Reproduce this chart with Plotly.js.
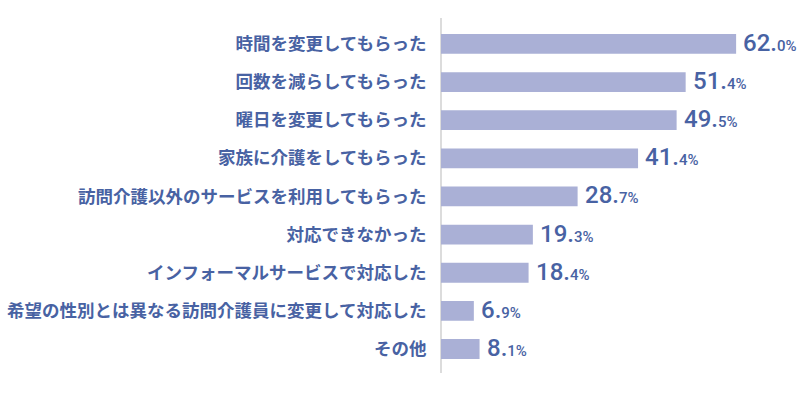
<!DOCTYPE html>
<html>
<head>
<meta charset="utf-8">
<script src="https://cdn.plot.ly/plotly-3.0.1.min.js"></script>
<style>
html,body{margin:0;padding:0;background:#fff;}
#chart{width:804px;height:394px;}
</style>
</head>
<body>
<div id="chart"></div>
<script>
const categories = [
  "時間を変更してもらった",
  "回数を減らしてもらった",
  "曜日を変更してもらった",
  "家族に介護をしてもらった",
  "訪問介護以外のサービスを利用してもらった",
  "対応できなかった",
  "インフォーマルサービスで対応した",
  "希望の性別とは異なる訪問介護員に変更して対応した",
  "その他"
];
const values = [62.0, 51.4, 49.5, 41.4, 28.7, 19.3, 18.4, 6.9, 8.1];

const textColor = "#4862a3";
const barColor = "#aab0d6";

const annotations = values.map((v, i) => {
  const s = v.toFixed(1);
  const dot = s.indexOf(".");
  const big = s.slice(0, dot + 1);
  const small = s.slice(dot + 1) + "%";
  return {
    x: v, y: categories[i], xref: "x", yref: "y",
    xanchor: "left", yanchor: "middle", xshift: 5, yshift: 1,
    showarrow: false,
    text: big + '<span style="font-size:15px">' + small + '</span>',
    font: {family: "Roboto, Arial, sans-serif", size: 24, color: textColor, weight: 500}
  };
});

const trace = {
  type: "bar",
  orientation: "h",
  x: values,
  y: categories,
  marker: {color: barColor},
  width: 0.52,
  hoverinfo: "none"
};

const layout = {
  width: 804, height: 394,
  margin: {l: 441, r: 6, t: 18, b: 21},
  paper_bgcolor: "#fff", plot_bgcolor: "#fff",
  showlegend: false,
  xaxis: {
    range: [0, 75], showgrid: false, showticklabels: false, ticks: "",
    zeroline: true, zerolinecolor: "#dcdcdc", zerolinewidth: 2, fixedrange: true
  },
  yaxis: {
    type: "category",
    categoryorder: "array", categoryarray: categories,
    range: [8.63, -0.68],
    showgrid: false, zeroline: false, showline: false,
    ticks: "outside", ticklen: 10, tickcolor: "rgba(0,0,0,0)",
    tickfont: {family: "'Noto Sans CJK JP', sans-serif", size: 17.5, color: textColor, weight: 700},
    fixedrange: true
  },
  annotations: annotations
};

Plotly.newPlot("chart", [trace], layout, {displayModeBar: false, staticPlot: true});
</script>
</body>
</html>
